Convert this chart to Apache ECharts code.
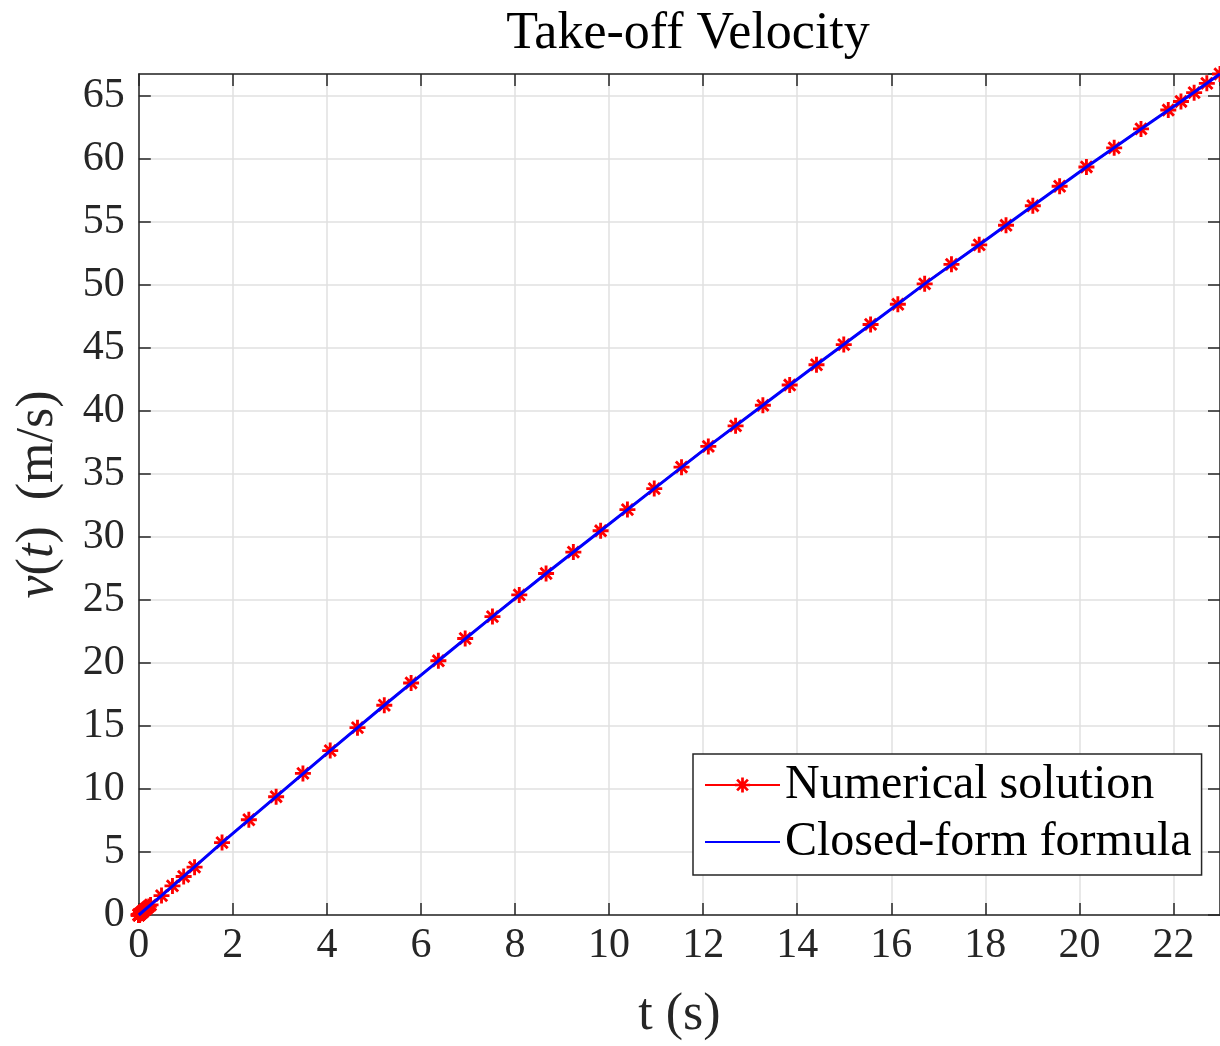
<!DOCTYPE html>
<html>
<head>
<meta charset="utf-8">
<script src="https://cdn.jsdelivr.net/npm/echarts@6/dist/echarts.min.js"></script>
<style>
html,body{margin:0;padding:0;background:#fff;overflow:hidden;}
#c{width:1220px;height:1046px;}
</style>
</head>
<body>
<div id="c"></div>
<script>
// ---- data ----
const numT = [0, 0.0005, 0.001, 0.0015, 0.002, 0.005, 0.01, 0.015, 0.02, 0.04, 0.06, 0.08, 0.1, 0.1375, 0.175, 0.2125, 0.25,
  0.483, 0.716, 0.954, 1.186, 1.77, 2.34, 2.92, 3.49, 4.07, 4.65, 5.22, 5.79, 6.37, 6.94, 7.52, 8.09, 8.66, 9.24, 9.82,
  10.39, 10.96, 11.54, 12.11, 12.69, 13.27, 13.84, 14.41, 14.99, 15.56, 16.14, 16.71, 17.28, 17.87, 18.44, 19.01, 19.58,
  20.15, 20.74, 21.31, 21.89, 22.16, 22.44, 22.71, 22.99];
const numV = [0, 0.002, 0.003, 0.005, 0.006, 0.016, 0.032, 0.048, 0.064, 0.13, 0.19, 0.26, 0.32, 0.44, 0.56, 0.68, 0.80,
  1.54, 2.31, 3.06, 3.80, 5.75, 7.56, 9.39, 11.24, 13.05, 14.87, 16.65, 18.42, 20.18, 21.95, 23.69, 25.41, 27.11, 28.81, 30.50,
  32.18, 33.85, 35.55, 37.20, 38.83, 40.46, 42.07, 43.68, 45.28, 46.88, 48.48, 50.10, 51.65, 53.20, 54.75, 56.30, 57.85,
  59.38, 60.90, 62.40, 63.90, 64.58, 65.28, 66.02, 66.76];
const closedT = [0, 0.25, 0.483, 0.954, 1.77, 2.92, 4.07, 5.22, 6.37, 7.52, 8.66, 9.82, 10.96, 12.11, 13.27, 14.41,
  15.56, 16.71, 17.87, 19.01, 20.15, 21.31, 22.16, 22.71, 22.99];
const closedV = [0, 0.80, 1.54, 3.06, 5.75, 9.39, 13.05, 16.65, 20.18, 23.69, 27.11, 30.50, 33.85, 37.20, 40.46, 43.68,
  46.88, 50.10, 53.20, 56.30, 59.38, 62.40, 64.58, 66.02, 66.76];
const xMin = 0, xMax = 22.99, xStep = 2;
const yMin = 0, yMax = 66.76, yStep = 5;
const titleText = 'Take-off Velocity';
const xName = 't (s)';
const yName = '{i|v}({i|t})  (m/s)';
const seriesNames = ['Numerical solution', 'Closed-form formula'];

const font = '"Liberation Serif", "Times New Roman", serif';
const axisColor = '#262626';
const asterisk = 'path://M41 0L59 0L59 100L41 100Z M0 41L100 41L100 59L0 59Z ' +
  'M20.96 8.23L91.77 79.04L79.04 91.77L8.23 20.96Z M91.77 20.96L20.96 91.77L8.23 79.04L79.04 8.23Z';
// square-bounded path that only fills a hair-thin bar along the line (so the legend shows a plain line)
const flatBar = 'path://M0 0L0.01 0L0 0.01Z M0 49.5L100 49.5L100 50.5L0 50.5Z M100 100L99.99 100L100 99.99Z';

function onStep(step) {
  return function (v) {
    const r = Math.round(v / step) * step;
    return Math.abs(v - r) < 1e-6 ? String(Math.round(v)) : '';
  };
}

const chart = echarts.init(document.getElementById('c'), null, {renderer: 'canvas', width: 1220, height: 1046});
const frameAxis = (extra) => Object.assign({
  type: 'value',
  axisLine: {show: true, onZero: false, lineStyle: {color: axisColor, width: 1.5}},
  axisTick: {show: true, inside: true, length: 12, lineStyle: {color: axisColor, width: 1.5}},
  axisLabel: {show: false},
  splitLine: {show: false}
}, extra);

chart.setOption({
  animation: false,
  backgroundColor: '#ffffff',
  title: {
    text: titleText,
    left: 683, top: 3, textAlign: 'center',
    textStyle: {fontFamily: font, fontSize: 52, fontWeight: 'normal', color: '#000'}
  },
  grid: {left: 138.8, top: 74, width: 1089.3, height: 846.5, containLabel: false},
  xAxis: [
    {
      type: 'value', min: xMin, max: xMax, interval: xStep,
      name: xName, nameLocation: 'middle', nameGap: 74,
      nameTextStyle: {fontFamily: font, fontSize: 52, color: axisColor},
      axisLine: {show: true, onZero: false, lineStyle: {color: axisColor, width: 1.5}},
      axisTick: {show: true, inside: true, length: 12, lineStyle: {color: axisColor, width: 1.5}},
      axisLabel: {show: true, margin: 10, fontFamily: font, fontSize: 42, color: axisColor, formatter: onStep(xStep),
        showMaxLabel: false},
      splitLine: {show: true, lineStyle: {color: '#e0e0e0', width: 1.5}}
    },
    frameAxis({position: 'top', min: xMin, max: xMax, interval: xStep})
  ],
  yAxis: [
    {
      type: 'value', min: yMin, max: yMax, interval: yStep,
      name: yName, nameLocation: 'middle', nameGap: 74, nameRotate: 90,
      nameTextStyle: {fontFamily: font, fontSize: 52, color: axisColor,
        rich: {i: {fontFamily: font, fontSize: 52, fontStyle: 'italic', color: axisColor}}},
      axisLine: {show: true, onZero: false, lineStyle: {color: axisColor, width: 1.5}},
      axisTick: {show: true, inside: true, length: 12, lineStyle: {color: axisColor, width: 1.5}},
      axisLabel: {show: true, margin: 14, padding: [5, 0, 0, 0], fontFamily: font, fontSize: 42, color: axisColor,
        formatter: onStep(yStep), showMaxLabel: false},
      splitLine: {show: true, lineStyle: {color: '#e0e0e0', width: 1.5}}
    },
    frameAxis({position: 'right', min: yMin, max: yMax, interval: yStep})
  ],
  legend: {
    orient: 'vertical',
    left: 693, top: 754,
    backgroundColor: '#ffffff',
    borderColor: axisColor, borderWidth: 1.5, borderRadius: 0,
    padding: [7, 10, 9, 11],
    itemGap: 9, itemWidth: 75, itemHeight: 19,
    textStyle: {fontFamily: font, fontSize: 48, color: '#000', lineHeight: 48},
    data: seriesNames
  },
  series: [
    {
      name: seriesNames[0], type: 'line',
      xAxisIndex: 0, yAxisIndex: 0,
      data: numT.map((t, i) => [t, numV[i]]),
      symbol: asterisk, symbolSize: 16, showAllSymbol: true,
      itemStyle: {color: '#ff0000'},
      lineStyle: {color: '#ff0000', width: 2},
      z: 2
    },
    {
      name: seriesNames[1], type: 'line',
      xAxisIndex: 0, yAxisIndex: 0,
      data: closedT.map((t, i) => [t, closedV[i]]),
      showSymbol: false, symbol: flatBar, symbolSize: 1,
      itemStyle: {color: '#0000ff'},
      lineStyle: {color: '#0000ff', width: 3},
      z: 3
    }
  ]
});
</script>
</body>
</html>
